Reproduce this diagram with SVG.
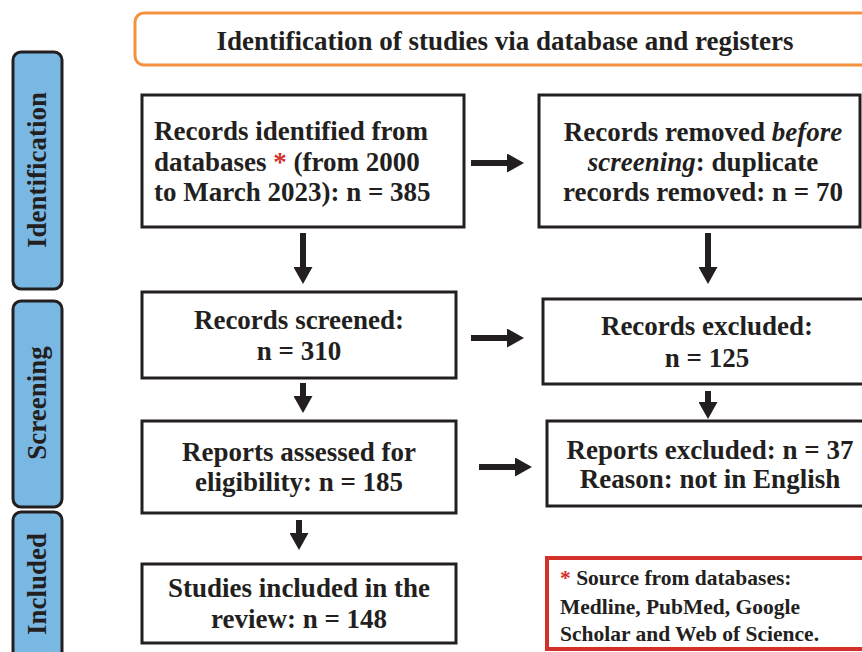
<svg xmlns="http://www.w3.org/2000/svg" width="862" height="652" viewBox="0 0 862 652">
<defs>
<style>
.t{font-family:"Liberation Serif","Times New Roman",serif;font-weight:bold;fill:#231f20;font-size:27px;}
.box{fill:#fff;stroke:#231f20;stroke-width:3;}
.tab{fill:#7ab8e4;stroke:#231f20;stroke-width:3;}
.con{stroke:#231f20;stroke-width:6;fill:none;marker-end:url(#ah);}
.red{fill:#d4302a;}
.note{font-size:21.5px;}
</style>
<marker id="ah" markerUnits="userSpaceOnUse" markerWidth="18" markerHeight="19" viewBox="0 0 17 19" refX="0" refY="9.5" orient="auto">
<path d="M0,0 L17,9.5 L0,19 Z" fill="#231f20"/>
</marker>
</defs>
<rect width="862" height="652" fill="#fff"/>

<g id="header">
<rect x="135" y="13" width="740" height="52" rx="9" fill="#fff" stroke="#f5923e" stroke-width="3"/>
<text class="t" x="505" y="50" text-anchor="middle">Identification of studies via database and registers</text>
</g>

<g id="tab-identification">
<rect class="tab" x="13" y="52" width="49" height="237" rx="8"/>
<text class="t" text-anchor="middle" transform="translate(46,170) rotate(-90)">Identification</text>
</g>
<g id="tab-screening">
<rect class="tab" x="13" y="301" width="49" height="206" rx="8"/>
<text class="t" text-anchor="middle" transform="translate(46,403) rotate(-90)">Screening</text>
</g>
<g id="tab-included">
<rect class="tab" x="13" y="512" width="49" height="160" rx="8"/>
<text class="t" text-anchor="middle" transform="translate(46,584) rotate(-90)">Included</text>
</g>

<g id="records-identified">
<rect class="box" x="142" y="95" width="322" height="132"/>
<text class="t" x="154" y="140">Records identified from</text>
<text class="t" x="154" y="171">databases <tspan class="red">*</tspan> (from 2000</text>
<text class="t" x="154" y="201">to March 2023): n = 385</text>
</g>

<g id="records-removed">
<rect class="box" x="539" y="95" width="321" height="132"/>
<text class="t" x="703" y="141" text-anchor="middle">Records removed <tspan font-style="italic">before</tspan></text>
<text class="t" x="703" y="171" text-anchor="middle"><tspan font-style="italic">screening</tspan>: duplicate</text>
<text class="t" x="703" y="201" text-anchor="middle">records removed: n = 70</text>
</g>

<g id="records-screened">
<rect class="box" x="142" y="292" width="314" height="86"/>
<text class="t" x="299" y="329" text-anchor="middle">Records screened:</text>
<text class="t" x="299" y="360" text-anchor="middle">n = 310</text>
</g>

<g id="records-excluded">
<rect class="box" x="543" y="299" width="330" height="85"/>
<text class="t" x="707" y="335" text-anchor="middle">Records excluded:</text>
<text class="t" x="707" y="367" text-anchor="middle">n = 125</text>
</g>

<g id="reports-assessed">
<rect class="box" x="142" y="421" width="314" height="92"/>
<text class="t" x="299" y="461" text-anchor="middle">Reports assessed for</text>
<text class="t" x="299" y="491" text-anchor="middle">eligibility: n = 185</text>
</g>

<g id="reports-excluded">
<rect class="box" x="547" y="421" width="326" height="85"/>
<text class="t" x="710" y="459" text-anchor="middle">Reports excluded: n = 37</text>
<text class="t" x="710" y="488" text-anchor="middle">Reason: not in English</text>
</g>

<g id="studies-included">
<rect class="box" x="142" y="564" width="314" height="79"/>
<text class="t" x="299" y="597" text-anchor="middle">Studies included in the</text>
<text class="t" x="299" y="628" text-anchor="middle">review: n = 148</text>
</g>

<g id="sources-note">
<rect x="547" y="558" width="330" height="91" fill="#fff" stroke="#d4302a" stroke-width="4"/>
<text class="t note" x="560" y="585"><tspan class="red">*</tspan> Source from databases:</text>
<text class="t note" x="560" y="614">Medline, PubMed, Google</text>
<text class="t note" x="560" y="641">Scholar and Web of Science.</text>
</g>

<g id="connectors">
<line class="con" x1="471" y1="163" x2="507" y2="163"/>
<line class="con" x1="303" y1="233" x2="303" y2="267"/>
<line class="con" x1="708" y1="233" x2="708" y2="267"/>
<line class="con" x1="471" y1="338" x2="507" y2="338"/>
<line class="con" x1="303" y1="383" x2="303" y2="396"/>
<line class="con" x1="708" y1="391" x2="708" y2="402"/>
<line class="con" x1="479" y1="467" x2="515" y2="467"/>
<line class="con" x1="299" y1="520" x2="299" y2="533"/>
</g>
</svg>
